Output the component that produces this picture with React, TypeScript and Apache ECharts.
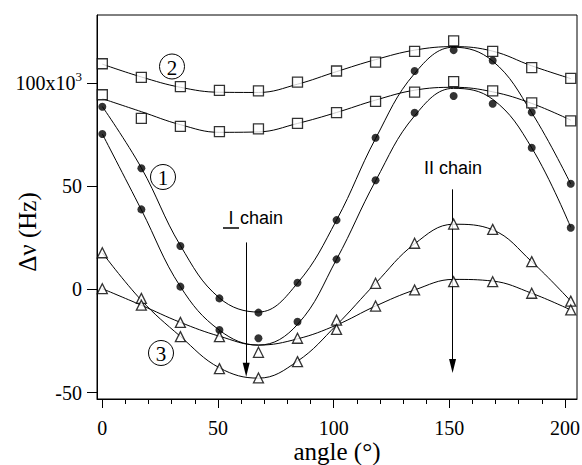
import React, { useEffect, useRef } from "react";
import * as echarts from "echarts";

// Rotation angles (degrees)
const angles = [0, 16.875, 33.75, 50.625, 67.5, 84.375, 101.25, 118.125, 135, 151.875, 168.75, 185.625, 202.5];

// Measured points (kHz)
const sq2Upper = [109.2, 102.6, 98.1, 96.3, 96.1, 100.3, 105.7, 110.0, 115.2, 120.3, 115.2, 107.3, 102.1];
const sq2Lower = [94.2, 82.8, 78.9, 76.3, 77.7, 80.3, 85.5, 91.0, 95.5, 100.5, 96.1, 90.3, 81.5];
const ci1Upper = [88.4, 58.6, 21.0, -4.4, -11.3, 3.2, 33.5, 73.4, 105.7, 115.8, 110.8, 85.7, 51.1];
const ci1Lower = [75.2, 38.7, 1.3, -19.7, -23.7, -15.7, 14.5, 52.8, 85.5, 93.6, 89.8, 68.5, 29.8];
const tr3Steep = [17.7, -4.4, -22.9, -38.4, -42.9, -35.0, -14.9, 2.9, 22.3, 31.6, 29.0, 13.4, -5.7];
const tr3Flat = [0.3, -7.7, -16.0, -22.9, -30.5, -23.7, -19.4, -8.1, -0.3, 3.7, 3.7, -1.9, -10.0];

// Fitted curves at the same angles
const fitSq2Upper = [109.0, 102.8, 97.8, 95.4, 95.3, 99.3, 105.4, 111.2, 115.8, 117.5, 115.3, 108.2, 102.0];
const fitSq2Lower = [92.3, 86.0, 79.7, 76.0, 76.2, 80.3, 85.6, 91.6, 96.4, 97.8, 95.6, 90.0, 81.9];
const fitCi1Upper = [88.5, 58.8, 21.2, -4.2, -11.0, 3.0, 33.5, 73.0, 104.5, 117.2, 110.5, 85.5, 51.0];
const fitCi1Lower = [75.2, 38.5, 1.3, -19.8, -27.0, -17.0, 14.5, 52.5, 84.0, 97.3, 92.0, 68.5, 30.0];
const fitTr3Steep = [17.7, -5.3, -22.8, -38.0, -43.0, -34.8, -17.3, 2.9, 22.0, 31.5, 28.8, 13.4, -5.7];
const fitTr3Flat = [0.3, -7.7, -16.0, -22.7, -27.0, -24.0, -17.3, -8.1, -0.3, 4.8, 4.0, -1.9, -10.0];

// Axis ticks
const xMajorTicks = [0, 50, 100, 150, 200];
const xMinorTicks = [0, 10, 20, 30, 40, 50, 60, 70, 80, 90, 100, 110, 120, 130, 140, 150, 160, 170, 180, 190, 200];
const yTicks = [-50, 0, 50, 100];

// Arrows: [angle, from, to]
const arrowI = [62.2, 22.7, -39];
const arrowII = [151.4, 48.4, -37.1];

const SERIF = "'Liberation Serif', 'Times New Roman', serif";
const SANS = "'Liberation Sans', Arial, sans-serif";

const pairs = (ys: number[]) => angles.map((a, i) => [a, ys[i]]);

export default function App() {
  const ref = useRef<HTMLDivElement>(null);
  useEffect(() => {
    if (!ref.current) return;
    const chart = echarts.init(ref.current, null, { renderer: "svg" });

    const fitLine = (name: string, ys: number[]) => ({
      name,
      type: "line",
      data: pairs(ys),
      smooth: 0.4,
      showSymbol: false,
      symbol: "none",
      lineStyle: { color: "#000", width: 1 },
      z: 2,
      silent: true,
    });
    const pts = (name: string, ys: number[], symbol: string, size: number, filled: boolean) => ({
      name,
      type: "scatter",
      data: pairs(ys),
      symbol,
      symbolSize: size,
      itemStyle: filled
        ? { color: "#000", borderColor: "#000", borderWidth: 0 }
        : { color: "#fff", borderColor: "#000", borderWidth: 1.3 },
      z: 5,
      silent: true,
    });

    const arrowSeries = {
      type: "line",
      data: [],
      silent: true,
      markLine: {
        silent: true,
        symbol: ["none", "triangle"],
        symbolSize: [7, 14],
        label: { show: false },
        lineStyle: { color: "#000", width: 1, type: "solid" },
        data: [
          [{ coord: [arrowI[0], arrowI[1]] }, { coord: [arrowI[0], arrowI[2]] }],
          [{ coord: [arrowII[0], arrowII[1]] }, { coord: [arrowII[0], arrowII[2]] }],
        ],
      },
    };

    const circled = (cx: number, cy: number, t: string) => [
      { type: "circle", shape: { cx, cy, r: 12.5 }, style: { fill: "none", stroke: "#000", lineWidth: 1 } },
      {
        type: "text",
        x: cx,
        y: cy + 1,
        style: { text: t, font: `21px ${SERIF}`, fill: "#000", align: "center", verticalAlign: "middle" },
      },
    ];

    chart.setOption({
      animation: false,
      backgroundColor: "#fff",
      grid: {
        left: 97,
        top: 15,
        width: 480,
        height: 384,
        containLabel: false,
        outerBoundsMode: "none",
        show: true,
        borderColor: "#000",
        borderWidth: 1,
        backgroundColor: "transparent",
      },
      xAxis: [
        {
          type: "value",
          min: -2.3,
          max: 205.2,
          position: "bottom",
          axisLine: { show: true, onZero: false, lineStyle: { color: "#000", width: 1 } },
          axisTick: { show: true, inside: false, length: 9, customValues: xMajorTicks, lineStyle: { color: "#000" } },
          axisLabel: {
            show: true,
            customValues: xMajorTicks,
            margin: 19,
            color: "#000",
            fontFamily: SERIF,
            fontSize: 20,
          },
          splitLine: { show: false },
          name: "angle (°)",
          nameLocation: "middle",
          nameGap: 40,
          nameMoveOverlap: false,
          nameTextStyle: { color: "#000", fontFamily: SERIF, fontSize: 25 },
        },
        {
          type: "value",
          min: -2.3,
          max: 205.2,
          position: "bottom",
          offset: 0,
          axisLine: { show: false, onZero: false },
          axisTick: { show: true, inside: false, length: 5, customValues: xMinorTicks, lineStyle: { color: "#000" } },
          axisLabel: { show: false },
          splitLine: { show: false },
        },
      ],
      yAxis: {
        type: "value",
        min: -53.1,
        max: 132.8,
        axisLine: { show: true, onZero: false, lineStyle: { color: "#000", width: 1 } },
        axisTick: { show: true, inside: false, length: 10, customValues: yTicks, lineStyle: { color: "#000" } },
        axisLabel: {
          show: true,
          customValues: yTicks,
          margin: 15,
          color: "#000",
          fontFamily: SERIF,
          fontSize: 20,
          formatter: (v: number) => (v === 100 ? "{a|100x10}{s|3}" : String(v)),
          rich: {
            a: { fontFamily: SERIF, fontSize: 20, color: "#000" },
            s: { fontFamily: SERIF, fontSize: 13, color: "#000", verticalAlign: "top", padding: [0, 0, 12, 0] },
          },
        },
        splitLine: { show: false },
      },
      series: [
        fitLine("fitSq2Upper", fitSq2Upper),
        fitLine("fitSq2Lower", fitSq2Lower),
        fitLine("fitCi1Upper", fitCi1Upper),
        fitLine("fitCi1Lower", fitCi1Lower),
        fitLine("fitTr3Steep", fitTr3Steep),
        fitLine("fitTr3Flat", fitTr3Flat),
        pts("sq2Upper", sq2Upper, "rect", 10, false),
        pts("sq2Lower", sq2Lower, "rect", 10, false),
        pts("ci1Upper", ci1Upper, "circle", 8, true),
        pts("ci1Lower", ci1Lower, "circle", 8, true),
        pts("tr3Steep", tr3Steep, "triangle", 10, false),
        pts("tr3Flat", tr3Flat, "triangle", 10, false),
        arrowSeries,
      ],
      graphic: [
        ...circled(172, 66.5, "2"),
        ...circled(163, 177, "1"),
        ...circled(161, 353, "3"),
        {
          type: "text",
          x: 27,
          y: 232,
          rotation: Math.PI / 2,
          style: { text: "Δν (Hz)", font: `25px ${SERIF}`, fill: "#000", align: "center", verticalAlign: "middle" },
        },
        {
          type: "text",
          x: 231,
          y: 217.5,
          style: { text: "I", font: `18px ${SANS}`, fill: "#000", align: "center", verticalAlign: "middle" },
        },
        {
          type: "line",
          shape: { x1: 223, y1: 228, x2: 239, y2: 228 },
          style: { stroke: "#000", lineWidth: 1.5 },
        },
        {
          type: "text",
          x: 240,
          y: 217.5,
          style: { text: "chain", font: `18px ${SANS}`, fill: "#000", align: "left", verticalAlign: "middle" },
        },
        {
          type: "text",
          x: 424,
          y: 168,
          style: { text: "II chain", font: `18px ${SANS}`, fill: "#000", align: "left", verticalAlign: "middle" },
        },
      ],
    });
    return () => chart.dispose();
  }, []);
  return <div ref={ref} style={{ position: "fixed", left: 0, top: 0, width: 582, height: 465 }} />;
}
